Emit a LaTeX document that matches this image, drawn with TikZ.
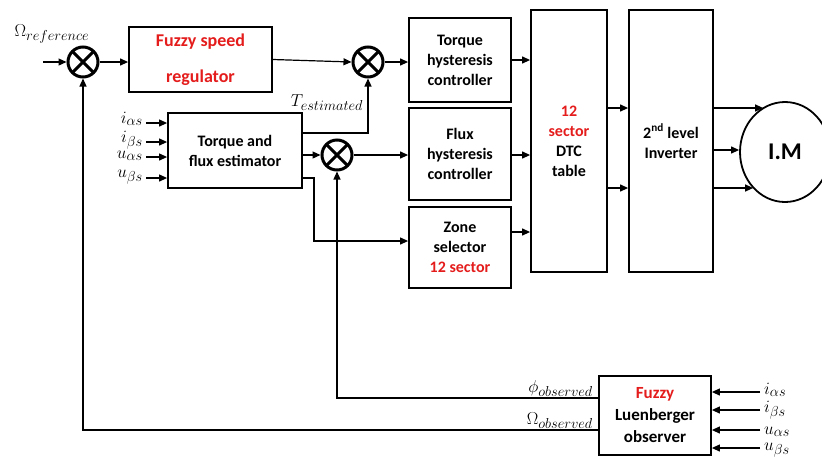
\documentclass[tikz,border=0pt]{standalone}
\usepackage{fontspec}
\setmainfont{Carlito}
\usetikzlibrary{arrows.meta,shapes.geometric}
\definecolor{fred}{RGB}{228,28,28}
\newcommand\subtx[1]{\mbox{\fontsize{13.5}{14}\selectfont$#1$}}
\begin{document}
\begin{tikzpicture}[x=1pt,y=-1pt,
  box/.style={draw, line width=1.8pt, align=center, inner sep=0pt, font=\bfseries\fontsize{16}{20}\selectfont},
  arr/.style={-{Triangle[length=8pt,width=7pt]}, line width=1.2pt},
  sumj/.style={circle, draw, line width=3pt, minimum size=30pt, inner sep=0pt,
    path picture={\draw[line width=3pt] (path picture bounding box.north west) -- (path picture bounding box.south east)
      (path picture bounding box.north east) -- (path picture bounding box.south west);}},
  lab/.style={inner sep=0pt, font=\fontsize{17}{19}\selectfont}]
\useasboundingbox (0,0) rectangle (822,456);

% blocks
\node[box, minimum width=143pt, minimum height=65pt, text=fred, font=\bfseries\fontsize{18}{22}\selectfont] (fsr) at (200.5,59.5) {Fuzzy speed\\[14pt]regulator};
\node[box, minimum width=102pt, minimum height=84pt] (thc) at (460,60) {Torque\\hysteresis\\controller};
\node[box, minimum width=102pt, minimum height=92pt] (fhc) at (460,154) {Flux\\hysteresis\\controller};
\node[box, minimum width=102pt, minimum height=81pt] (zone) at (460,247.5) {Zone\\selector\\\textcolor{fred}{12 sector}};
\node[box, minimum width=76pt, minimum height=262pt] (dtc) at (569,141) {\textcolor{fred}{12}\\\textcolor{fred}{sector}\\DTC\\table};
\node[box, minimum width=84pt, minimum height=262pt] (inv) at (671,141) {2\textsuperscript{nd} level\\Inverter};
\node[box, minimum width=134pt, minimum height=75pt] (est) at (235,150.5) {Torque and\\flux estimator};
\node[box, minimum width=112pt, minimum height=79pt, font=\bfseries\fontsize{17}{22}\selectfont] (obs) at (655,415.5) {\textcolor{fred}{Fuzzy}\\Luenberger\\observer};
\node[ellipse, draw, line width=1.8pt, minimum width=90pt, minimum height=100pt, inner sep=0pt, font=\bfseries\fontsize{24}{28}\selectfont] (im) at (785,152) {I.M};

% summing junctions
\node[sumj] (s1) at (83,62) {};
\node[sumj] (s2) at (368,62) {};
\node[sumj] (s3) at (337,155) {};

% labels
\node[lab, anchor=base] (lref) at (52,36) {$\Omega_{\subtx{reference}}$};
\node[lab, anchor=base] (lte) at (327,106) {$T_{\subtx{estimated}}$};
\node[lab, anchor=base east] (lphi) at (593,392) {$\phi_{\subtx{observed}}$};
\node[lab, anchor=base east] (lom) at (593,424) {$\Omega_{\subtx{observed}}$};

% estimator inputs
\node[lab, anchor=base east] (ei1) at (143,123) {$i_{\subtx{\alpha s}}$};
\node[lab, anchor=base east] (ei2) at (143,142) {$i_{\subtx{\beta s}}$};
\node[lab, anchor=base east] (ei3) at (143,158) {$u_{\subtx{\alpha s}}$};
\node[lab, anchor=base east] (ei4) at (143,177) {$u_{\subtx{\beta s}}$};
\coordinate (ec1) at (146,123);
\coordinate (ec2) at (146,142);
\coordinate (ec3) at (146,157);
\coordinate (ec4) at (146,178);
\draw[arr] (ec1) -- (ec1 -| est.west);
\draw[arr] (ec2) -- (ec2 -| est.west);
\draw[arr] (ec3) -- (ec3 -| est.west);
\draw[arr] (ec4) -- (ec4 -| est.west);

% observer inputs
\node[lab, anchor=base west] (oi1) at (764,394) {$i_{\subtx{\alpha s}}$};
\node[lab, anchor=base west] (oi2) at (764,412) {$i_{\subtx{\beta s}}$};
\node[lab, anchor=base west] (oi3) at (764,434) {$u_{\subtx{\alpha s}}$};
\node[lab, anchor=base west] (oi4) at (764,450) {$u_{\subtx{\beta s}}$};
\coordinate (oc1) at (760,392);
\coordinate (oc2) at (760,410);
\coordinate (oc3) at (760,430);
\coordinate (oc4) at (760,448);
\draw[arr] (oc1) -- (oc1 -| obs.east);
\draw[arr] (oc2) -- (oc2 -| obs.east);
\draw[arr] (oc3) -- (oc3 -| obs.east);
\draw[arr] (oc4) -- (oc4 -| obs.east);

% main path
\coordinate (refin) at (43,62);
\draw[arr] (refin) -- (s1.west);
\draw[arr] (s1.east) -- (s1.east -| fsr.west);
\draw[arr] (fsr.east) -- (s2.west);
\draw[arr] (s2.east) -- (s2.east -| thc.west);
\draw[arr] ([yshift=17.5pt]est.east) -| (s2.south);
\draw[arr] ([yshift=-4.5pt]est.east) -- (s3.west);
\draw[arr] (s3.east) -- (s3.east -| fhc.west);
\draw[arr] ([yshift=-27.5pt]est.east) -- ++(11,0) |- ([yshift=6.5pt]zone.west);

\draw[arr] (thc.east) -- (thc.east -| dtc.west);
\draw[arr] ([yshift=-1pt]fhc.east) -- ([yshift=-1pt]fhc.east -| dtc.west);
\draw[arr] ([yshift=15.5pt]zone.east) -- ([yshift=15.5pt]zone.east -| dtc.west);

\draw[arr] ([yshift=33pt]dtc.east) -- ([yshift=33pt]dtc.east -| inv.west);
\draw[arr] ([yshift=-47pt]dtc.east) -- ([yshift=-47pt]dtc.east -| inv.west);

\draw[arr] ([yshift=33pt]inv.east) -- ([yshift=33pt]inv.east -| im.116);
\draw[arr] ([yshift=-9pt]inv.east) -- ([yshift=-9pt]inv.east -| im.west);
\draw[arr] ([yshift=-47pt]inv.east) -- ([yshift=-47pt]inv.east -| im.229);

% feedback
\draw[arr] ([yshift=17.5pt]obs.west) -| (s3.south);
\draw[arr] ([yshift=-14.5pt]obs.west) -| (s1.south);
\end{tikzpicture}
\end{document}
